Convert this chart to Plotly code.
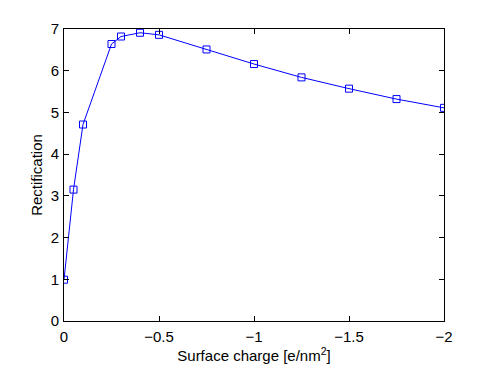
import plotly.graph_objects as go

# surface charge [e/nm^2] and rectification
charge = [0, -0.05, -0.1, -0.25, -0.3, -0.4, -0.5, -0.75, -1.0, -1.25, -1.5, -1.75, -2.0]
rectification = [0.99, 3.15, 4.71, 6.64, 6.82, 6.91, 6.86, 6.51, 6.16, 5.84, 5.57, 5.32, 5.11]

x_ticks = [0, -0.5, -1, -1.5, -2]
x_labels = ['0', '\u22120.5', '\u22121', '\u22121.5', '\u22122']
y_ticks = [0, 1, 2, 3, 4, 5, 6, 7]

font = dict(family='Liberation Sans, Arial', size=15, color='black')

fig = go.Figure()
fig.add_trace(go.Scatter(
    x=charge, y=rectification, mode='lines+markers',
    line=dict(color='#0000ff', width=1),
    marker=dict(symbol='square-open', size=7, color='#0000ff', line=dict(width=1)),
    showlegend=False,
))

axis_style = dict(
    showgrid=False, zeroline=False,
    showline=True, linecolor='black', linewidth=1, mirror='ticks',
    ticks='inside', ticklen=5, tickcolor='black',
    tickfont=font,
)

fig.update_xaxes(range=[0, -2], tickvals=x_ticks, ticktext=x_labels, ticklabelstandoff=2,
                 title=dict(text='Surface charge [e/nm<sup>2</sup>]', standoff=0, font=font),
                 **axis_style)
fig.update_yaxes(range=[0, 7], tickvals=y_ticks, ticklabelstandoff=1,
                 title=dict(text='Rectification', standoff=4, font=font),
                 **axis_style)

# page body adds an 8px margin, so the figure is a bit smaller than the window
fig.update_layout(
    width=483, height=360,
    margin=dict(l=56, r=47, t=17, b=37),
    paper_bgcolor='white', plot_bgcolor='white',
)

fig.write_html('out.html')
